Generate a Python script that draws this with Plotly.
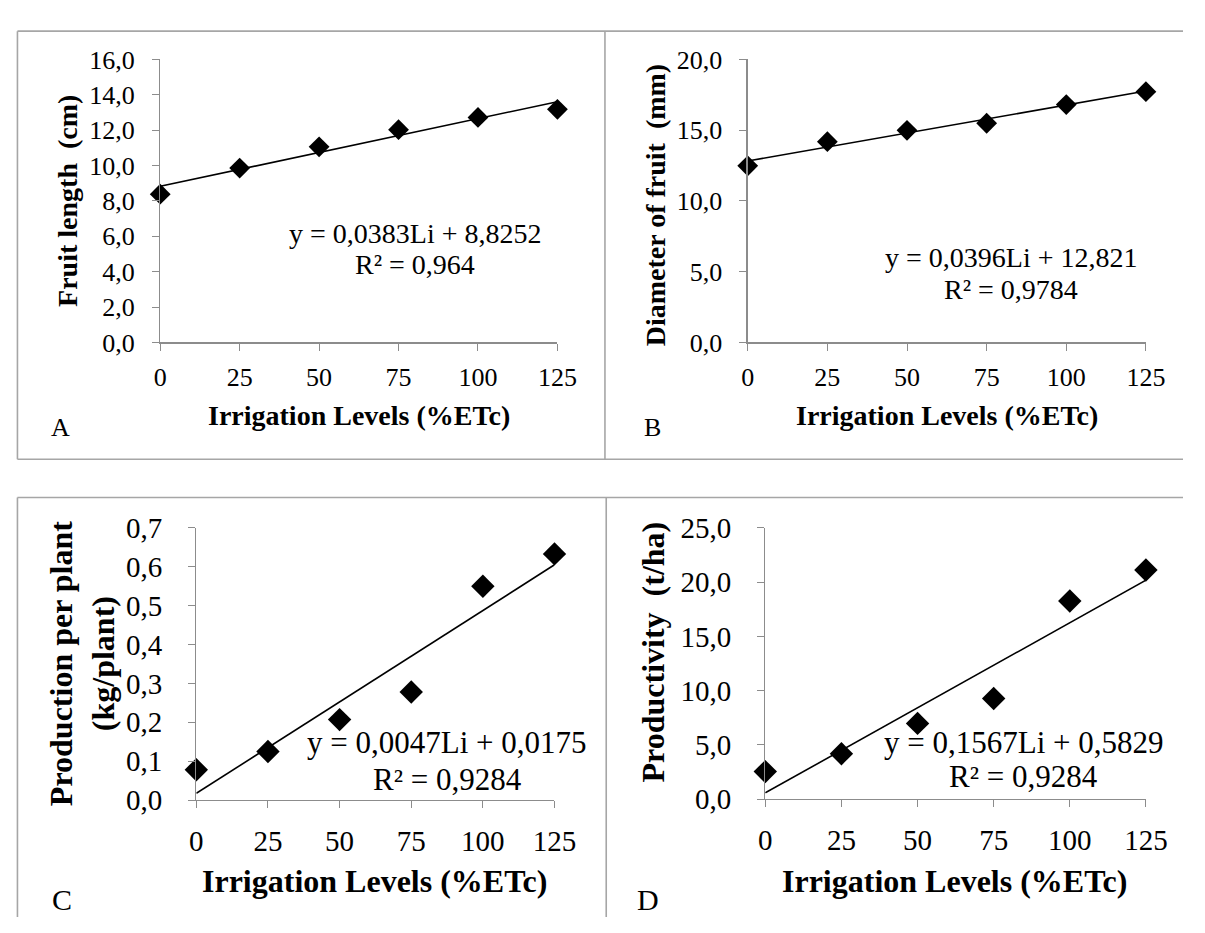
import plotly.graph_objects as go

W, H = 1205, 933
FONT = "Liberation Serif, Times New Roman, serif"

# ---------------- data ----------------
irrigation_levels = [0, 25, 50, 75, 100, 125]

fruit_length = [8.38, 9.86, 11.06, 12.03, 12.72, 13.18]
fruit_diameter = [12.48, 14.19, 14.99, 15.49, 16.81, 17.72]
production_per_plant = [0.078, 0.125, 0.207, 0.278, 0.550, 0.633]
productivity = [2.54, 4.19, 6.98, 9.28, 18.26, 21.11]

slopes = [0.0383, 0.0396, 0.0047, 0.1567]
intercepts = [8.8252, 12.821, 0.0175, 0.5829]
equations = ["y = 0,0383Li + 8,8252", "y = 0,0396Li + 12,821",
             "y = 0,0047Li + 0,0175", "y = 0,1567Li + 0,5829"]
r_squared = ["R² = 0,964", "R² = 0,9784", "R² = 0,9284", "R² = 0,9284"]

y_titles = ["Fruit length  (cm)", "Diameter of fruit  (mm)",
            "Production per plant<br>(kg/plant)", "Productivity  (t/ha)"]
x_title = "Irrigation Levels (%ETc)"
panel_letters = ["A", "B", "C", "D"]

y_ticks = [[0, 2, 4, 6, 8, 10, 12, 14, 16],
           [0, 5, 10, 15, 20],
           [0, 0.1, 0.2, 0.3, 0.4, 0.5, 0.6, 0.7],
           [0, 5, 10, 15, 20, 25]]
y_ranges = [[0, 16], [0, 20], [0, 0.7], [0, 25]]
x_ticks = [0, 25, 50, 75, 100, 125]

series = [fruit_length, fruit_diameter, production_per_plant, productivity]

# ---------------- layout (pixels) ----------------
def px(x):
    return x / W

def py(y):
    return 1 - y / H

# plot areas: (x_left, x_right, y_top, y_bottom) in pixels
areas = [(157, 564, 45, 338),
         (759, 1167, 45, 338),
         (194, 561, 530, 812),
         (777, 1167, 530, 811)]
tick_font = [26, 26, 29, 29]
title_font = [28, 28, 32, 32]
eq_font = [28, 28, 31, 31]
x_standoff = [4, 4, 8, 8]
y_standoff = [12, 12, 20, 20]
# equation positions: x in pixels, y in data coords (eq, r2)
eq_pos = [(418, 6.17, 4.42), (1029, 6.0, 3.75), (451, 0.148, 0.053), (1042, 5.24, 2.1)]
x_title_pos = [(361, 414), (963, 414), (377, 896), (971, 896)]
y_title_pos = [(62, 192), (664, 196), (77, 671), (662, 659)]
letter_pos = [(55, 426), (661, 426), (56, 915), (657, 915)]
marker_size = [16, 16, 18, 18]

fig = go.Figure()
annotations = []
AX = "#8c8c8c"

for i in range(4):
    xl, xr, yt, yb = areas[i]
    xa = "x" if i == 0 else f"x{i+1}"
    ya = "y" if i == 0 else f"y{i+1}"
    # trend line from the fitted equation
    fig.add_trace(go.Scatter(
        x=[irrigation_levels[0], irrigation_levels[-1]],
        y=[intercepts[i] + slopes[i] * irrigation_levels[0],
           intercepts[i] + slopes[i] * irrigation_levels[-1]],
        mode="lines", line=dict(color="black", width=1.6),
        xaxis=xa, yaxis=ya, showlegend=False, cliponaxis=False))
    # observed points
    fig.add_trace(go.Scatter(
        x=irrigation_levels, y=series[i], mode="markers",
        marker=dict(symbol="diamond", size=marker_size[i], color="black"),
        xaxis=xa, yaxis=ya, showlegend=False, cliponaxis=False))

    key = "" if i == 0 else str(i + 1)
    fig.layout["xaxis" + key] = dict(
        domain=[px(xl), px(xr)], range=[0, 125], anchor=ya,
        tickvals=x_ticks, ticks="outside", ticklen=7, tickcolor=AX,
        showline=True, linecolor=AX, linewidth=1.3, showgrid=False,
        zeroline=False, ticklabelstandoff=x_standoff[i],
        tickfont=dict(family=FONT, size=tick_font[i], color="black"))
    fig.layout["yaxis" + key] = dict(
        domain=[py(yb), py(yt)], range=y_ranges[i], anchor=xa,
        tickvals=y_ticks[i], ticks="outside", ticklen=7, tickcolor=AX,
        tickformat=".1f",
        showline=True, linecolor=AX, linewidth=1.3, showgrid=False,
        zeroline=False, ticklabelstandoff=y_standoff[i],
        tickfont=dict(family=FONT, size=tick_font[i], color="black"))

    ex, ey1, ey2 = eq_pos[i]
    annotations.append(dict(x=px(ex), xref="paper", y=ey1, yref=ya, text=equations[i],
                            showarrow=False, xanchor="center", yanchor="middle",
                            font=dict(family=FONT, size=eq_font[i], color="black")))
    annotations.append(dict(x=px(ex), xref="paper", y=ey2, yref=ya, text=r_squared[i],
                            showarrow=False, xanchor="center", yanchor="middle",
                            font=dict(family=FONT, size=eq_font[i], color="black")))
    tx, ty = x_title_pos[i]
    annotations.append(dict(x=px(tx), y=py(ty), xref="paper", yref="paper",
                            text="<b>" + x_title + "</b>", showarrow=False,
                            xanchor="center", yanchor="middle",
                            font=dict(family=FONT, size=title_font[i], color="black")))
    vx, vy = y_title_pos[i]
    annotations.append(dict(x=px(vx), y=py(vy), xref="paper", yref="paper",
                            text="<b>" + y_titles[i] + "</b>", showarrow=False,
                            textangle=-90, xanchor="center", yanchor="middle",
                            font=dict(family=FONT, size=title_font[i], color="black")))
    lx, ly = letter_pos[i]
    annotations.append(dict(x=px(lx), y=py(ly), xref="paper", yref="paper",
                            text=panel_letters[i], showarrow=False,
                            xanchor="center", yanchor="middle",
                            font=dict(family=FONT, size=title_font[i] - 2, color="black")))

BORDER = "#a6a6a6"
border_lines = [
    (10.7, 15.7, 1205, 15.7), (10.7, 459, 1205, 459),
    (10.7, 15.7, 10.7, 459), (612.7, 15.7, 612.7, 459),
    (10.7, 498.6, 1205, 498.6), (10.7, 498.6, 10.7, 933), (614, 498.6, 614, 933),
]
shapes = [dict(type="line", xref="paper", yref="paper",
               x0=px(a), y0=py(b), x1=px(c), y1=py(d),
               line=dict(color=BORDER, width=1.6)) for a, b, c, d in border_lines]

fig.update_layout(width=W, height=H, margin=dict(l=0, r=0, t=0, b=0),
                  paper_bgcolor="white", plot_bgcolor="white",
                  separators=", ", annotations=annotations, shapes=shapes,
                  showlegend=False, hovermode=False)

fig.write_html("out.html",
               config={"displayModeBar": False, "staticPlot": True},
               post_script="document.body.style.margin='0';"
                           "document.body.style.overflow='hidden';")
